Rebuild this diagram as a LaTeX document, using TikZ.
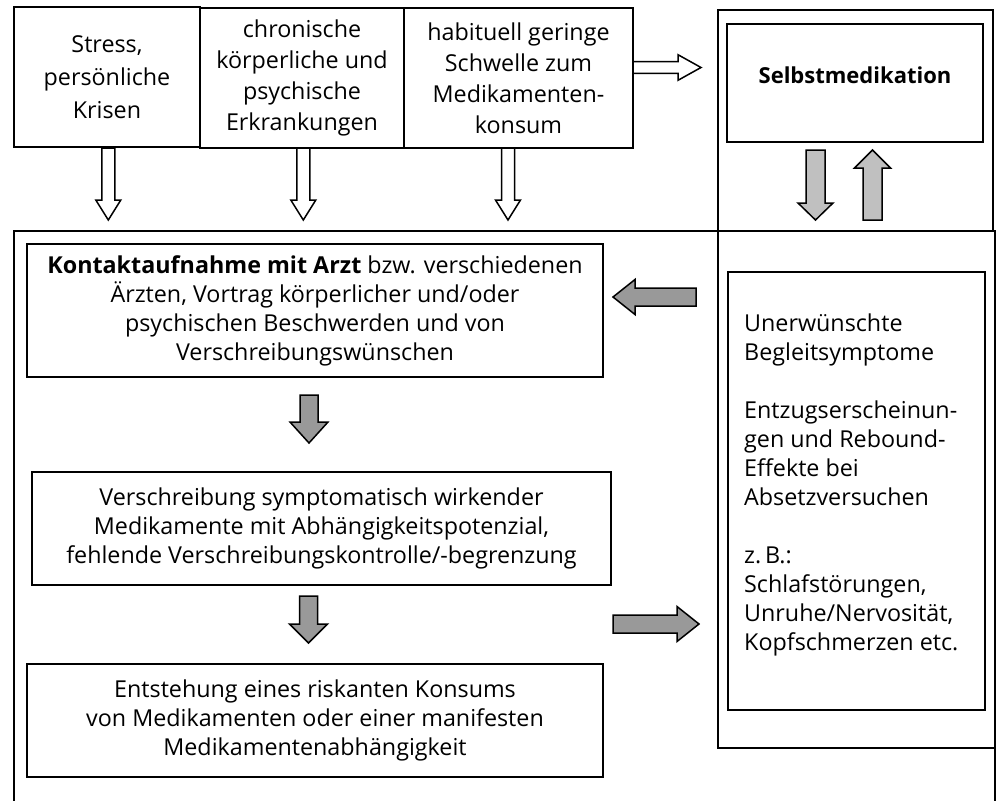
\documentclass[tikz,border=0pt]{standalone}
\usepackage{fontspec}
\setmainfont{Open Sans}
\newcommand\arrv[7]{% cx, tail, headbase, tip, shaft half, head half, fill
  \filldraw[arr, fill=#7] (#1-#5,#2) -- (#1+#5,#2) -- (#1+#5,#3) -- (#1+#6,#3) -- (#1,#4) -- (#1-#6,#3) -- (#1-#5,#3) -- cycle;}
\newcommand\arrh[7]{% cy, tail, headbase, tip, shaft half, head half, fill
  \filldraw[arr, fill=#7] (#2,#1-#5) -- (#3,#1-#5) -- (#3,#1-#6) -- (#4,#1) -- (#3,#1+#6) -- (#3,#1+#5) -- (#2,#1+#5) -- cycle;}
\definecolor{darkgr}{HTML}{999999}
\definecolor{lightgr}{HTML}{C0C0C0}
\begin{document}
\begin{tikzpicture}[x=1pt,y=-1pt,
  box/.style={draw, line width=1.8pt, inner sep=0pt, align=center, font=\fontsize{23.3}{29}\selectfont},
  frame/.style={draw, line width=2pt},
  arr/.style={draw=black, line width=1.5pt, line join=miter},
  txt/.style={inner sep=0pt, font=\fontsize{23.3}{29}\selectfont}]
\useasboundingbox (0,0) rectangle (997,801);
\fill[white] (0,0) rectangle (997,801);
% frames
\draw[frame] (718,231) -- (718,10) -- (993,10) -- (993,231);
\draw[frame] (14,801) -- (14,231) -- (995,231) -- (995,801);
\draw[frame] (718,231) -- (718,748) -- (995,748);
% top boxes
\node[box, minimum width=186, minimum height=140, font=\fontsize{23.3}{33}\selectfont] (b1) at (107,77) {Stress,\\persönliche\\Krisen};
\node[box, minimum width=204, minimum height=140, font=\fontsize{23.3}{31}\selectfont] (b2) at (302,78) {chronische\\körperliche und\\psychische\\Erkrankungen};
\node[box, minimum width=229, minimum height=140, font=\fontsize{23.3}{31}\selectfont] (b3) at (518.5,78) {habituell geringe\\Schwelle zum\\Medikamenten-\\konsum};
% Selbstmedikation
\node[box, minimum width=256, minimum height=118] (selbst) at (855,83) {};
\node[txt, anchor=base, font=\fontsize{22}{29}\selectfont\bfseries] (selbsttxt) at (855,83) {Selbstmedikation};
% main boxes
\node[box, minimum width=576, minimum height=133] (kontakt) at (315,310.5) {\textbf{Kontaktaufnahme mit Arzt} bzw. verschiedenen\\Ärzten, Vortrag körperlicher und/oder\\psychischen Beschwerden und von\\Verschreibungswünschen};
\node[box, minimum width=579, minimum height=113] (verschr) at (321.5,528.5) {Verschreibung symptomatisch wirkender\\Medikamente mit Abhängigkeitspotenzial,\\fehlende Verschreibungskontrolle/-begrenzung};
\node[box, minimum width=576, minimum height=113] (entst) at (315,720.5) {Entstehung eines riskanten Konsums\\von Medikamenten oder einer manifesten\\Medikamentenabhängigkeit};
% right box
\node[box, minimum width=257, minimum height=438] (symp) at (856.5,491) {};
\node[txt, anchor=north west, align=left] (symptxt) at (744,314) {Unerwünschte\\Begleitsymptome\\[29pt]Entzugserscheinun-\\gen und Rebound-\\Effekte bei\\Absetzversuchen\\[29pt]z.\,B.:\\Schlafstörungen,\\Unruhe/Nervosität,\\Kopfschmerzen etc.};
% white arrows
\arrv{108.3}{148}{200}{220}{6.5}{12.5}{white}
\arrv{303.3}{148}{200}{220}{6.5}{12.5}{white}
\arrv{508}{148}{200}{220}{6.5}{12.5}{white}
\arrh{67.5}{633}{678}{701}{5.8}{12.8}{white}
% light gray arrows
\arrv{815.5}{150}{203}{220}{9.5}{17.5}{lightgr}
\arrv{872.5}{220}{168}{150}{9.5}{18}{lightgr}
% dark gray arrows
\arrh{297}{696}{635}{613}{9}{17.5}{darkgr}
\arrv{309}{395}{422}{443}{9}{19}{darkgr}
\arrv{308.5}{596}{624}{643}{9}{19}{darkgr}
\arrh{624}{613}{677}{699}{9}{17.5}{darkgr}
\end{tikzpicture}
\end{document}
